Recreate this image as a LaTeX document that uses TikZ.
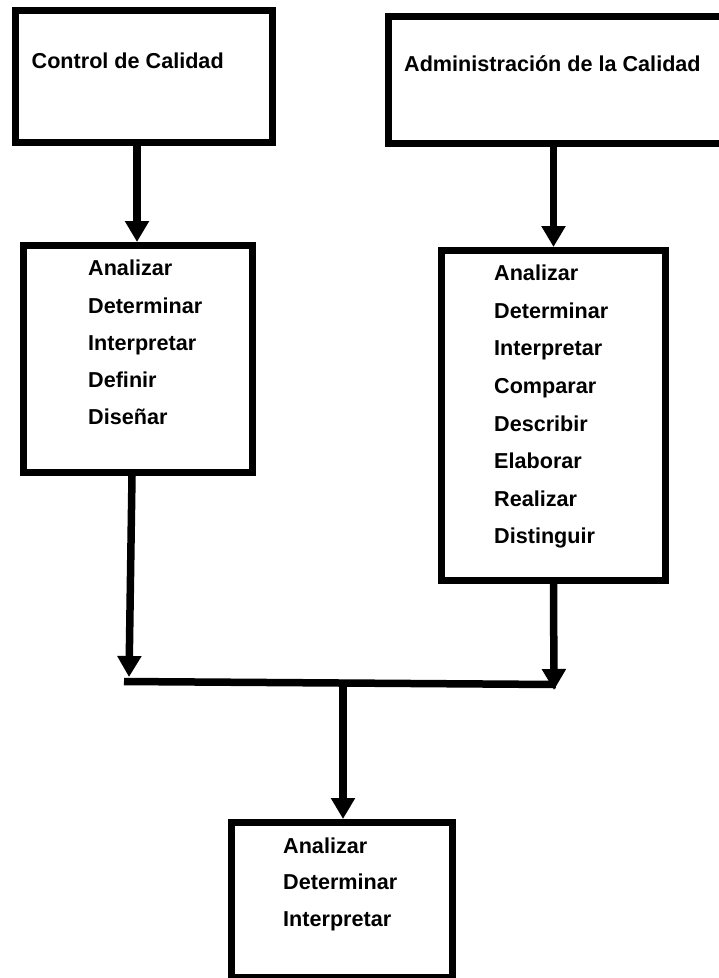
\documentclass[tikz,border=0pt]{standalone}
\usepackage{fontspec}
\setmainfont{Liberation Sans}
\usetikzlibrary{arrows.meta}
\begin{document}
\begin{tikzpicture}[x=1pt,y=-1pt,
  box/.style={draw=black, line width=7pt, fill=white, rectangle, inner sep=0pt},
  item/.style={inner sep=0pt, anchor=base west, font=\fontsize{21.6}{26}\selectfont\bfseries},
  conn/.style={draw=black, line width=7.5pt},
  arr/.style={conn, -{Triangle[width=23pt,length=21pt]}}]
\useasboundingbox (0,0) rectangle (719,978);
\clip (0,0) rectangle (719,978);
\fill[white] (0,0) rectangle (719,978);
% boxes
\node[box, minimum width=257pt, minimum height=132pt] (cc) at (144,76.5) {};
\node[box, minimum width=342pt, minimum height=127pt] (ad) at (559.5,79.5) {};
\node[box, minimum width=229pt, minimum height=227pt] (b3) at (138,359) {};
\node[box, minimum width=224pt, minimum height=330pt] (b4) at (553.5,415.5) {};
\node[box, minimum width=221pt, minimum height=155pt] (b5) at (341.5,900) {};
% titles
\node[item] (cct) at (31.5,68) {Control de Calidad};
\node[item] (adt) at (404,71.5) {Administración de la Calidad};
% lists
\foreach \w [count=\i] in {Analizar,Determinar,Interpretar,Definir,Diseñar}
  \node[item] (b3-\i) at (88,275.7+37.3*\i-37.3) {\w};
\foreach \w [count=\i] in {Analizar,Determinar,Interpretar,Comparar,Describir,Elaborar,Realizar,Distinguir}
  \node[item] (b4-\i) at (494,280.7+37.6*\i-37.6) {\w};
\foreach \w [count=\i] in {Analizar,Determinar,Interpretar}
  \node[item] (b5-\i) at (283,853+36.8*\i-36.8) {\w};
% connectors
\coordinate (jL) at (124,681.5);
\coordinate (jR) at (556,684.5);
\coordinate (tL) at (129,677);
\coordinate (tR) at (554,690);
\draw[arr] ([xshift=-1pt]b3.north |- cc.south) -- ([xshift=-1pt]b3.north);
\draw[arr] (b4.north |- ad.south) -- (b4.north);
\draw[arr] ([xshift=-6pt]b3.south) -- (tL);
\draw[arr] (b4.south) -- (tR);
\draw[conn] (jL) -- (jR);
\draw[arr] ([xshift=1.5pt]b5.north |- jL) -- ([xshift=1.5pt]b5.north);
\end{tikzpicture}
\end{document}
